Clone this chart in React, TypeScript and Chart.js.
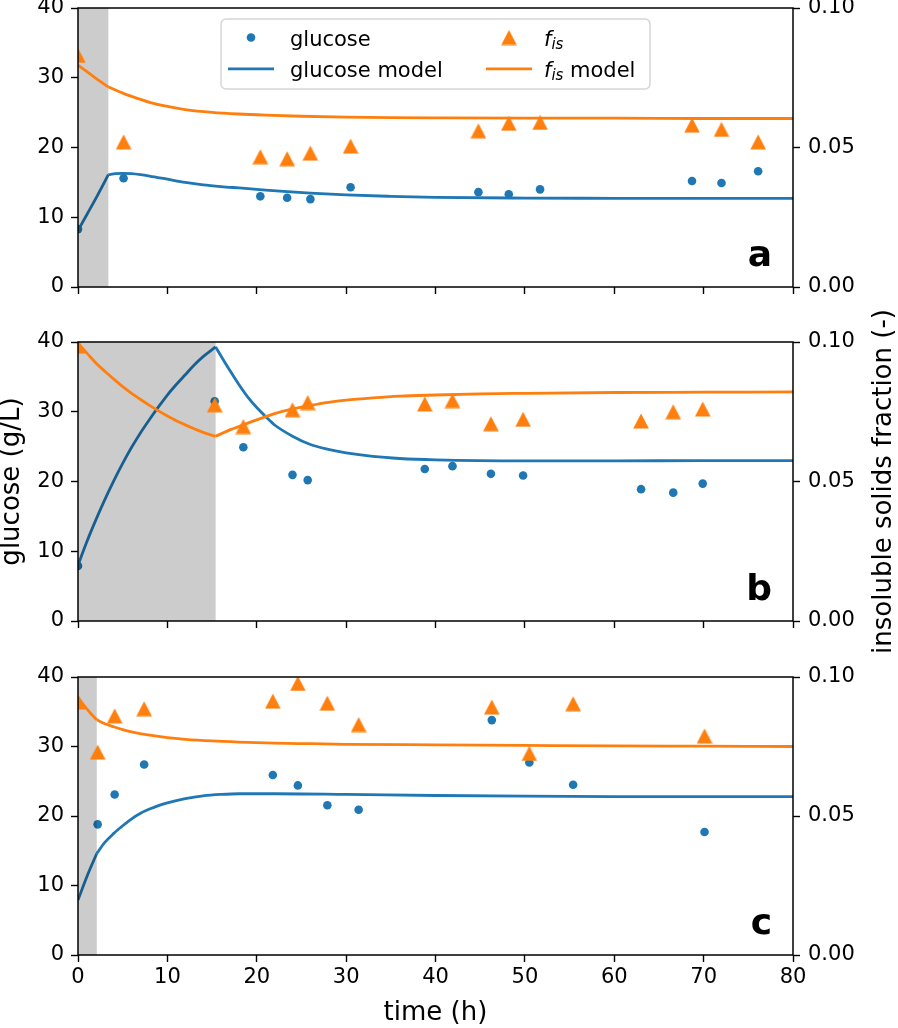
import React, { useEffect, useRef } from 'react';
import { Chart, registerables } from 'chart.js';

Chart.register(...registerables);

const W = 898;
const H = 1028;
const BLUE = '#1f77b4';
const ORANGE = '#ff7f0e';
const FONT = '"DejaVu Sans"';

// ---- shared ticks ----
const timeTicks = [0, 10, 20, 30, 40, 50, 60, 70, 80];
const glucoseTicks = [0, 10, 20, 30, 40];
const fisTicks = [0, 0.05, 0.1];
const panelLetters = ['a', 'b', 'c'];
const feedEnds = [3.4, 15.4, 2.1];

// ---- panel a ----
const tGlcA = [0, 5.1, 20.4, 23.4, 26.0, 30.5, 44.8, 48.2, 51.7, 68.7, 72.0, 76.1];
const glcA = [8.3, 15.6, 13.0, 12.8, 12.6, 14.3, 13.6, 13.3, 14.0, 15.2, 14.9, 16.6];
const tFisA = [0, 5.1, 20.4, 23.4, 26.0, 30.5, 44.8, 48.2, 51.7, 68.7, 72.0, 76.1];
const fisA = [0.083, 0.052, 0.0467, 0.046, 0.048, 0.0505, 0.056, 0.0587, 0.059, 0.058, 0.0565, 0.052];
const tGlcModelA = [0, 1, 2, 3.4, 4.2, 5, 6, 7, 8, 10, 12, 14, 16, 18, 20, 23, 26, 30, 35, 40, 50, 60, 70, 80];
const glcModelA = [8.1, 10.4, 12.7, 16.1, 16.25, 16.3, 16.25, 16.1, 15.9, 15.45, 15.0, 14.65, 14.4, 14.2, 14.0, 13.7, 13.45, 13.2, 13.0, 12.85, 12.75, 12.72, 12.7, 12.7];
const tFisModelA = [0, 1, 2, 3.4, 5, 6, 8, 10, 12, 15, 18, 21, 25, 30, 35, 40, 50, 60, 70, 80];
const fisModelA = [0.0795, 0.0772, 0.0748, 0.0717, 0.0695, 0.0683, 0.0662, 0.0647, 0.0636, 0.0626, 0.062, 0.0616, 0.0612, 0.0609, 0.0607, 0.0606, 0.0605, 0.0605, 0.0604, 0.0604];

// ---- panel b ----
const tGlcB = [0, 15.3, 18.5, 24.0, 25.7, 38.8, 41.9, 46.2, 49.8, 63.0, 66.6, 69.9];
const glcB = [7.9, 31.5, 24.9, 20.95, 20.2, 21.8, 22.2, 21.1, 20.85, 18.9, 18.4, 19.7];
const tFisB = [0, 15.3, 18.5, 24.0, 25.7, 38.8, 41.9, 46.2, 49.8, 63.0, 66.6, 69.9];
const fisB = [0.0985, 0.0775, 0.0697, 0.0757, 0.0783, 0.0778, 0.079, 0.0707, 0.0723, 0.0717, 0.075, 0.076];
const tGlcModelB = [0, 1, 2, 3, 4, 5, 6, 7, 8, 9, 10, 11, 12, 13, 14, 15.4, 16, 17, 18, 19, 20, 21, 22, 24, 26, 28, 30, 33, 36, 40, 50, 60, 70, 80];
const glcModelB = [8.0, 11.4, 14.5, 17.4, 20.1, 22.6, 24.9, 27.0, 28.9, 30.7, 32.4, 33.9, 35.3, 36.7, 37.9, 39.3, 38.0, 35.9, 33.9, 32.1, 30.6, 29.3, 28.1, 26.5, 25.3, 24.6, 24.1, 23.6, 23.3, 23.1, 22.95, 22.95, 23.0, 23.0];
const tFisModelB = [0, 1, 2, 3, 4, 5, 6, 7, 8, 9, 10, 11, 12, 13, 14, 15.4, 17, 18.5, 20, 22, 24, 26, 28, 30, 33, 36, 40, 45, 50, 60, 70, 80];
const fisModelB = [0.0995, 0.096, 0.0925, 0.0895, 0.0867, 0.084, 0.0816, 0.0794, 0.0773, 0.0753, 0.0735, 0.0718, 0.0703, 0.0689, 0.0676, 0.0662, 0.0685, 0.0703, 0.0721, 0.0743, 0.076, 0.0773, 0.0784, 0.0792, 0.08, 0.0806, 0.081, 0.0814, 0.0816, 0.0819, 0.082, 0.0821];

// ---- panel c ----
const tGlcC = [2.2, 4.1, 7.4, 21.8, 24.6, 27.9, 31.4, 46.3, 50.5, 55.4, 70.1];
const glcC = [18.8, 23.1, 27.4, 25.9, 24.4, 21.55, 20.9, 33.8, 27.7, 24.5, 17.7];
const tFisC = [0, 2.2, 4.1, 7.4, 21.8, 24.6, 27.9, 31.4, 46.3, 50.5, 55.4, 70.1];
const fisC = [0.091, 0.073, 0.086, 0.0886, 0.0913, 0.0977, 0.0906, 0.0829, 0.0892, 0.0725, 0.0904, 0.0788];
const tGlcModelC = [0, 1, 2.1, 3, 4, 5, 6, 7, 8, 9, 10, 12, 14, 16, 18, 22, 30, 40, 50, 60, 80];
const glcModelC = [7.9, 11.3, 14.6, 16.2, 17.5, 18.6, 19.6, 20.4, 21.0, 21.5, 21.9, 22.5, 22.9, 23.1, 23.2, 23.2, 23.1, 22.95, 22.85, 22.8, 22.8];
const tFisModelC = [0, 0.5, 1, 1.5, 2.1, 3, 4, 5, 6, 8, 10, 12, 15, 18, 22, 26, 30, 40, 50, 60, 70, 80];
const fisModelC = [0.0928, 0.0905, 0.0885, 0.0866, 0.0846, 0.0832, 0.0821, 0.0811, 0.0803, 0.0791, 0.0782, 0.0776, 0.077, 0.0766, 0.0762, 0.076, 0.0758, 0.0756, 0.0754, 0.0752, 0.0751, 0.075];

// ---- layout (page pixels) ----
const AREA_LEFT = 78;
const AREA_RIGHT = 793;
const panelTops = [8, 342, 677];
const panelBottoms = [287, 621, 955];

const panels = [
  { tGlc: tGlcA, glc: glcA, tFis: tFisA, fis: fisA, tGm: tGlcModelA, gm: glcModelA, tFm: tFisModelA, fm: fisModelA },
  { tGlc: tGlcB, glc: glcB, tFis: tFisB, fis: fisB, tGm: tGlcModelB, gm: glcModelB, tFm: tFisModelB, fm: fisModelB },
  { tGlc: tGlcC, glc: glcC, tFis: tFisC, fis: fisC, tGm: tGlcModelC, gm: glcModelC, tFm: tFisModelC, fm: fisModelC },
];

const pts = (xs: number[], ys: number[]) => xs.map((x, i) => ({ x, y: ys[i] }));
const before = (xs: number[], ys: number[], e: number) => pts(xs, ys).filter((d) => d.x <= e);
const after = (xs: number[], ys: number[], e: number) => pts(xs, ys).filter((d) => d.x >= e);

function makeTriangle(): HTMLCanvasElement {
  const c = document.createElement('canvas');
  c.width = 16;
  c.height = 16;
  const g = c.getContext('2d')!;
  g.fillStyle = ORANGE;
  g.beginPath();
  g.moveTo(8, 0.4);
  g.lineTo(0.2, 15.6);
  g.lineTo(15.8, 15.6);
  g.closePath();
  g.fill();
  return c;
}

function drawFisLabel(ctx: CanvasRenderingContext2D, x: number, y: number, suffix: string) {
  ctx.save();
  ctx.fillStyle = '#000';
  ctx.textAlign = 'left';
  ctx.textBaseline = 'alphabetic';
  ctx.font = `italic 21px ${FONT}`;
  ctx.fillText('f', x, y);
  const fw = ctx.measureText('f').width;
  ctx.font = `italic 15px ${FONT}`;
  ctx.fillText('is', x + fw, y + 3.5);
  const sw = ctx.measureText('is').width;
  if (suffix) {
    ctx.font = `21px ${FONT}`;
    ctx.fillText(suffix, x + fw + sw, y);
  }
  ctx.restore();
}

function drawLegend(ctx: CanvasRenderingContext2D, tri: HTMLCanvasElement) {
  ctx.save();
  const x0 = 221, y0 = 19, x1 = 650, y1 = 89, r = 5;
  ctx.beginPath();
  ctx.moveTo(x0 + r, y0);
  ctx.arcTo(x1, y0, x1, y1, r);
  ctx.arcTo(x1, y1, x0, y1, r);
  ctx.arcTo(x0, y1, x0, y0, r);
  ctx.arcTo(x0, y0, x1, y0, r);
  ctx.closePath();
  ctx.fillStyle = 'rgba(255,255,255,0.8)';
  ctx.fill();
  ctx.lineWidth = 1.5;
  ctx.strokeStyle = 'rgba(204,204,204,0.8)';
  ctx.stroke();

  const r1 = 37.5, r2 = 68.8, b1 = 45.5, b2 = 76.5;
  ctx.fillStyle = BLUE;
  ctx.beginPath();
  ctx.arc(251, r1, 4.3, 0, Math.PI * 2);
  ctx.fill();
  ctx.strokeStyle = BLUE;
  ctx.lineWidth = 2.8;
  ctx.beginPath();
  ctx.moveTo(228, r2);
  ctx.lineTo(274, r2);
  ctx.stroke();
  ctx.drawImage(tri, 509 - 8, r1 - 8);
  ctx.strokeStyle = ORANGE;
  ctx.beginPath();
  ctx.moveTo(486, r2);
  ctx.lineTo(532, r2);
  ctx.stroke();

  ctx.fillStyle = '#000';
  ctx.font = `21px ${FONT}`;
  ctx.textAlign = 'left';
  ctx.textBaseline = 'alphabetic';
  ctx.fillText('glucose', 290, b1);
  ctx.fillText('glucose model', 290, b2);
  ctx.restore();
  drawFisLabel(ctx, 544, b1, '');
  drawFisLabel(ctx, 544, b2, ' model');
}

export default function App() {
  const refs = [useRef<HTMLCanvasElement>(null), useRef<HTMLCanvasElement>(null), useRef<HTMLCanvasElement>(null)];

  useEffect(() => {
    const tri = makeTriangle();
    const charts: Chart[] = [];
    panels.forEach((p, idx) => {
      const canvas = refs[idx].current!;
      const top = panelTops[idx];
      const bottom = panelBottoms[idx];
      const isLast = idx === 2;
      const xAxisH = isLast ? 40 : 10;
      const fe = feedEnds[idx];

      const deco = {
        id: 'deco' + idx,
        beforeDatasetDraw(chart: any, args: any) {
          if (args.index !== 3) return;
          const { ctx, chartArea } = chart;
          const xe = chart.scales.x.getPixelForValue(fe);
          ctx.save();
          ctx.fillStyle = 'rgba(0,0,0,0.2)';
          ctx.fillRect(chartArea.left, chartArea.top, xe - chartArea.left, chartArea.bottom - chartArea.top);
          ctx.restore();
        },
        afterDatasetsDraw(chart: any) {
          const { ctx, chartArea } = chart;
          ctx.save();
          ctx.strokeStyle = '#000';
          ctx.lineWidth = 1.5;
          ctx.strokeRect(chartArea.left, chartArea.top, chartArea.right - chartArea.left, chartArea.bottom - chartArea.top);
          ctx.fillStyle = '#000';
          ctx.font = `bold 36px ${FONT}`;
          ctx.textAlign = 'right';
          ctx.textBaseline = 'alphabetic';
          ctx.fillText(panelLetters[idx], 772, chartArea.bottom - 21);
          ctx.restore();
        },
        afterDraw(chart: any) {
          const ctx = chart.ctx as CanvasRenderingContext2D;
          if (idx === 0) drawLegend(ctx, tri);
          if (idx === 1) {
            const cy = (chart.chartArea.top + chart.chartArea.bottom) / 2;
            ctx.save();
            ctx.fillStyle = '#000';
            ctx.font = `26px ${FONT}`;
            ctx.textAlign = 'center';
            ctx.textBaseline = 'middle';
            ctx.translate(12, cy);
            ctx.rotate(-Math.PI / 2);
            ctx.fillText('glucose (g/L)', 0, 0);
            ctx.restore();
            ctx.save();
            ctx.fillStyle = '#000';
            ctx.font = `26px ${FONT}`;
            ctx.textAlign = 'center';
            ctx.textBaseline = 'middle';
            ctx.translate(884, cy);
            ctx.rotate(-Math.PI / 2);
            ctx.fillText('insoluble solids fraction (-)', 0, 0);
            ctx.restore();
          }
          if (idx === 2) {
            ctx.save();
            ctx.fillStyle = '#000';
            ctx.font = `26px ${FONT}`;
            ctx.textAlign = 'center';
            ctx.textBaseline = 'middle';
            ctx.fillText('time (h)', (chart.chartArea.left + chart.chartArea.right) / 2, 1013);
            ctx.restore();
          }
        },
      };

      const modelLine = (data: any[], axis: string, color: string, order: number) => ({
        data,
        yAxisID: axis,
        borderColor: color,
        borderWidth: 2.8,
        pointRadius: 0,
        cubicInterpolationMode: 'monotone',
        order,
        clip: 0,
      });

      const tickFont = { family: FONT, size: 21 };
      const chart = new Chart(canvas, {
        type: 'line',
        data: {
          datasets: [
            {
              label: 'glucose',
              data: pts(p.tGlc, p.glc),
              yAxisID: 'y',
              showLine: false,
              pointRadius: 4.3,
              pointBorderWidth: 0,
              pointBackgroundColor: BLUE,
              borderColor: BLUE,
              order: 6,
              clip: 0,
            },
            { label: 'glucose model', ...modelLine(before(p.tGm, p.gm, fe), 'y', BLUE, 5) },
            { label: 'glucose model', ...modelLine(after(p.tGm, p.gm, fe), 'y', BLUE, 4) },
            {
              label: 'fis',
              data: pts(p.tFis, p.fis),
              yAxisID: 'y1',
              showLine: false,
              pointStyle: tri,
              pointRadius: 8,
              pointBorderWidth: 0,
              borderColor: ORANGE,
              pointBackgroundColor: ORANGE,
              order: 3,
              clip: 0,
            },
            { label: 'fis model', ...modelLine(before(p.tFm, p.fm, fe), 'y1', ORANGE, 2) },
            { label: 'fis model', ...modelLine(after(p.tFm, p.fm, fe), 'y1', ORANGE, 1) },
          ],
        },
        options: {
          responsive: false,
          animation: false,
          events: [],
          layout: { padding: { left: 0, right: 0, top: top, bottom: H - bottom - xAxisH } },
          plugins: { legend: { display: false }, tooltip: { enabled: false }, title: { display: false } },
          scales: {
            x: {
              type: 'linear',
              position: 'bottom',
              min: 0,
              max: 80,
              afterBuildTicks: (s: any) => { s.ticks = timeTicks.map((v) => ({ value: v })); },
              afterFit: (s: any) => { s.height = xAxisH; s.paddingLeft = 0; s.paddingRight = 0; },
              ticks: { display: isLast, font: tickFont, color: '#000', padding: 3, autoSkip: false, maxRotation: 0, callback: (v: any) => String(v) },
              grid: { display: true, drawOnChartArea: false, drawTicks: true, tickLength: 7, tickColor: '#000', tickWidth: 1.4 },
              border: { display: false },
            },
            y: {
              type: 'linear',
              position: 'left',
              min: 0,
              max: 40,
              afterBuildTicks: (s: any) => { s.ticks = glucoseTicks.map((v) => ({ value: v })); },
              afterFit: (s: any) => { s.width = AREA_LEFT; s.paddingTop = 0; s.paddingBottom = 0; },
              ticks: { font: tickFont, color: '#000', padding: 7, callback: (v: any) => String(v) },
              grid: { display: true, drawOnChartArea: false, drawTicks: true, tickLength: 7, tickColor: '#000', tickWidth: 1.4 },
              border: { display: false },
            },
            y1: {
              type: 'linear',
              position: 'right',
              min: 0,
              max: 0.1,
              afterBuildTicks: (s: any) => { s.ticks = fisTicks.map((v) => ({ value: v })); },
              afterFit: (s: any) => { s.width = W - AREA_RIGHT; s.paddingTop = 0; s.paddingBottom = 0; },
              ticks: { font: tickFont, color: '#000', padding: 8, callback: (v: any) => Number(v).toFixed(2) },
              grid: { display: true, drawOnChartArea: false, drawTicks: true, tickLength: 7, tickColor: '#000', tickWidth: 1.4 },
              border: { display: false },
            },
          },
        },
        plugins: [deco],
      } as any);
      charts.push(chart);
    });
    return () => charts.forEach((c) => c.destroy());
  }, []);

  return (
    <div style={{ position: 'absolute', left: 0, top: 0, width: W, height: H, background: '#fff' }}>
      {refs.map((r, i) => (
        <canvas key={i} ref={r} width={W} height={H} style={{ position: 'absolute', left: 0, top: 0, width: W, height: H }} />
      ))}
    </div>
  );
}
